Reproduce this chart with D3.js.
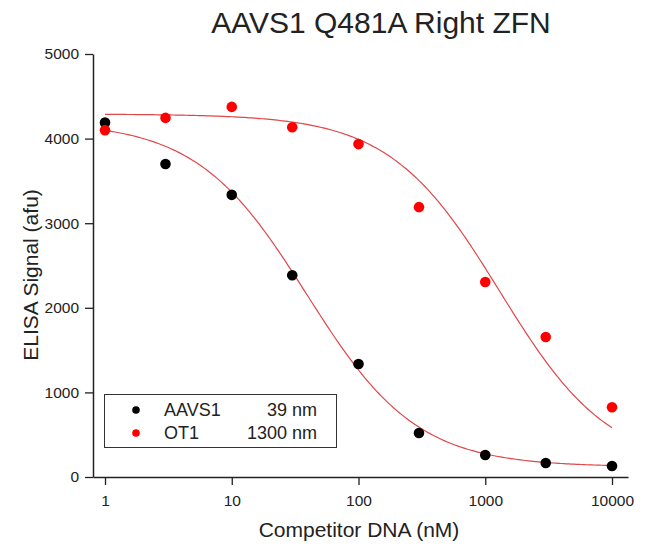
<!DOCTYPE html>
<html>
<head>
<meta charset="utf-8">
<script src="https://cdn.jsdelivr.net/npm/d3@7"></script>
<style>
  body { margin: 0; background: #fff; }
  text { font-family: "Liberation Sans", Arial, sans-serif; fill: #222; }
</style>
</head>
<body>
<svg id="chart" width="653" height="546"></svg>
<script>
// data
var concentrations = [1, 3, 10, 30, 100, 300, 1000, 3000, 10000];
var aavs1Signal = [4190, 3700, 3335, 2385, 1335, 520, 260, 165, 130];
var ot1Signal = [4100, 4245, 4375, 4135, 3935, 3190, 2305, 1655, 825];
var seriesNames = ["AAVS1", "OT1"];
var ic50Labels = ["39 nm", "1300 nm"];
var xTicks = [1, 10, 100, 1000, 10000];
var yTicks = [0, 1000, 2000, 3000, 4000, 5000];

// 4-parameter logistic fit: [top, bottom, ic50, hill]
var aavs1Fit = [4200, 120, 39, 1];
var ot1Fit = [4290, 100, 1300, 1];

var svg = d3.select("#chart");

var x = d3.scaleLog().domain([0.804, 13370]).range([93, 628]);
var y = d3.scaleLinear().domain([0, 5000]).range([477, 54]);

function logistic(p) {
    return function (c) {
        return p[1] + (p[0] - p[1]) / (1 + Math.pow(c / p[2], p[3]));
    };
}

// fit curves
var curveX = d3.range(0, 4.001, 0.02).map(function (e) { return Math.pow(10, e); });
[aavs1Fit, ot1Fit].forEach(function (p) {
    var f = logistic(p);
    svg.append("path")
        .datum(curveX)
        .attr("fill", "none")
        .attr("stroke", "#e0464a")
        .attr("stroke-width", 1.2)
        .attr("d", d3.line()
            .x(function (c) { return x(c); })
            .y(function (c) { return y(f(c)); }));
});

// points
var series = [
    { values: aavs1Signal, color: "#000" },
    { values: ot1Signal, color: "#ff0000" }
];
series.forEach(function (s) {
    svg.append("g").selectAll("circle").data(s.values).enter().append("circle")
        .attr("cx", function (d, i) { return x(concentrations[i]); })
        .attr("cy", function (d) { return y(d); })
        .attr("r", 5.3)
        .attr("fill", s.color);
});

// axes
var xMinor = [];
for (var e = 0; e <= 4; e++) {
    for (var m = 1; m <= 9; m++) {
        var v = m * Math.pow(10, e);
        if (v <= 10000) xMinor.push(v);
    }
}
var xAxisG = svg.append("g").attr("transform", "translate(0,477)");
xAxisG.call(d3.axisBottom(x).tickValues(xMinor).tickSize(4).tickFormat(""));
xAxisG.call(d3.axisBottom(x).tickValues(xTicks).tickSize(8).tickSizeOuter(0)
    .tickFormat(d3.format("d")));
xAxisG.selectAll("path.domain").attr("stroke", "#222").attr("stroke-width", 1.5);
xAxisG.selectAll(".tick line").attr("stroke", "#222").attr("stroke-width", 1.3);
xAxisG.selectAll("text").attr("font-size", 15.5).attr("dy", "1.16em");

var yMinor = d3.range(0, 5001, 250);
var yAxisG = svg.append("g").attr("transform", "translate(93,0)");
yAxisG.call(d3.axisLeft(y).tickValues(yMinor).tickSize(4).tickFormat(""));
yAxisG.call(d3.axisLeft(y).tickValues(yTicks).tickSize(8).tickSizeOuter(0)
    .tickFormat(d3.format("d")));
yAxisG.selectAll("path.domain").attr("stroke", "#222").attr("stroke-width", 1.5);
yAxisG.selectAll(".tick line").attr("stroke", "#222").attr("stroke-width", 1.3);
yAxisG.selectAll("text").attr("font-size", 15.5).attr("dx", "-3px");

// titles
svg.append("text")
    .attr("x", 381).attr("y", 33)
    .attr("text-anchor", "middle")
    .attr("font-size", 30)
    .text("AAVS1 Q481A Right ZFN");

svg.append("text")
    .attr("x", 359).attr("y", 537)
    .attr("text-anchor", "middle")
    .attr("font-size", 21)
    .text("Competitor DNA (nM)");

svg.append("text")
    .attr("transform", "translate(38,275) rotate(-90)")
    .attr("text-anchor", "middle")
    .attr("font-size", 21)
    .text("ELISA Signal (afu)");

// legend
var legend = svg.append("g");
legend.append("rect")
    .attr("x", 104.5).attr("y", 394.5)
    .attr("width", 232).attr("height", 53)
    .attr("fill", "#fff")
    .attr("stroke", "#333")
    .attr("stroke-width", 1);
seriesNames.forEach(function (name, i) {
    var ly = 410 + i * 23;
    legend.append("circle")
        .attr("cx", 136).attr("cy", ly).attr("r", 3.8)
        .attr("fill", series[i].color);
    legend.append("text")
        .attr("x", 164).attr("y", ly).attr("dy", "0.36em")
        .attr("font-size", 18)
        .text(name);
    legend.append("text")
        .attr("x", 317).attr("y", ly).attr("dy", "0.36em")
        .attr("text-anchor", "end")
        .attr("font-size", 18)
        .text(ic50Labels[i]);
});
</script>
</body>
</html>
